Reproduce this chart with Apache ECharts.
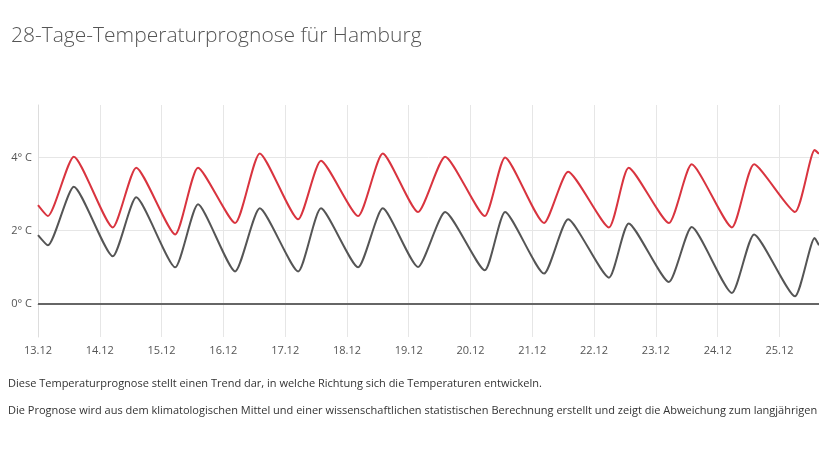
<!doctype html>
<html lang="de">
<head>
<meta charset="UTF-8">
<script src="https://cdn.jsdelivr.net/npm/echarts@6/dist/echarts.min.js"></script>
<title>28-Tage-Temperaturprognose</title>
<style>body{margin:0;background:#fff}</style>
</head>
<body>
<div id="main" style="width:819px;height:460px;"></div>
<script>
// Tage ab 13.12. 00:00
var dayLabels = ['13.12','14.12','15.12','16.12','17.12','18.12','19.12','20.12','21.12','22.12','23.12','24.12','25.12'];
var times = [0, 0.16, 0.58, 1.21, 1.59, 2.22, 2.59, 3.19, 3.59, 4.21, 4.58, 5.18, 5.58, 6.15, 6.59,
             7.23, 7.56, 8.19, 8.58, 9.24, 9.56, 10.21, 10.58, 11.23, 11.59, 12.25, 12.57, 12.64];
var redValues = [2.70, 2.40, 4.02, 2.09, 3.72, 1.90, 3.72, 2.21, 4.11, 2.31, 3.91, 2.40, 4.11, 2.51, 4.02,
                 2.40, 4.00, 2.21, 3.61, 2.09, 3.72, 2.21, 3.81, 2.09, 3.81, 2.51, 4.20, 4.10];
var greyValues = [1.88, 1.60, 3.20, 1.30, 2.91, 1.00, 2.72, 0.89, 2.61, 0.89, 2.61, 1.00, 2.61, 1.01, 2.51,
                  0.92, 2.51, 0.83, 2.31, 0.72, 2.20, 0.60, 2.10, 0.30, 1.90, 0.21, 1.80, 1.60];
var yTicks = [0, 2, 4];

function pairs(vals) {
    return vals.map(function (v, i) { return [times[i], v]; });
}

var myChart = echarts.init(document.getElementById('main'));
var option = {
    animation: false,
    textStyle: { fontFamily: 'Open Sans' },
    title: {
        text: '28-Tage-Temperaturprognose für Hamburg',
        left: 6, top: 21,
        textStyle: { fontSize: 21, fontWeight: 300, color: '#555', fontFamily: 'Open Sans' }
    },
    grid: { left: 38, right: 0, top: 105, bottom: 123 },
    xAxis: {
        type: 'value', min: 0, max: 12.64, interval: 1,
        axisLine: { lineStyle: { color: '#aaa' } },
        axisTick: { show: false },
        splitLine: { show: true, lineStyle: { color: '#e6e6e6' } },
        axisLabel: {
            color: '#555', fontSize: 11, margin: 8, showMaxLabel: false,
            formatter: function (v) { return dayLabels[Math.round(v)] || ''; }
        }
    },
    yAxis: {
        type: 'value', min: -0.9, max: 5.43,
        axisLine: { show: true, lineStyle: { color: '#ddd' } },
        axisTick: { show: false, customValues: yTicks },
        splitLine: { show: true, lineStyle: { color: '#e6e6e6' } },
        axisLabel: {
            color: '#555', fontSize: 11, margin: 6, customValues: yTicks,
            formatter: function (v) { return v + '° C'; }
        }
    },
    series: [{
        type: 'line', data: pairs(redValues), smooth: 0.2, showSymbol: false,
        lineStyle: { color: '#d9343f', width: 2 },
        markLine: {
            silent: true, symbol: 'none', label: { show: false },
            lineStyle: { color: '#666', width: 2, type: 'solid' },
            data: [{ yAxis: 0 }]
        }
    }, {
        type: 'line', data: pairs(greyValues), smooth: 0.2, showSymbol: false,
        lineStyle: { color: '#555', width: 2 }
    }],
    graphic: [{
        type: 'text', left: 8, top: 378,
        style: { text: 'Diese Temperaturprognose stellt einen Trend dar, in welche Richtung sich die Temperaturen entwickeln.', fill: '#333', font: '11px "Open Sans"' }
    }, {
        type: 'text', left: 8, top: 405,
        style: { text: 'Die Prognose wird aus dem klimatologischen Mittel und einer wissenschaftlichen statistischen Berechnung erstellt und zeigt die Abweichung zum langjährigen Mittel.', fill: '#333', font: '11px "Open Sans"' }
    }]
};
myChart.setOption(option);
</script>
</body>
</html>
